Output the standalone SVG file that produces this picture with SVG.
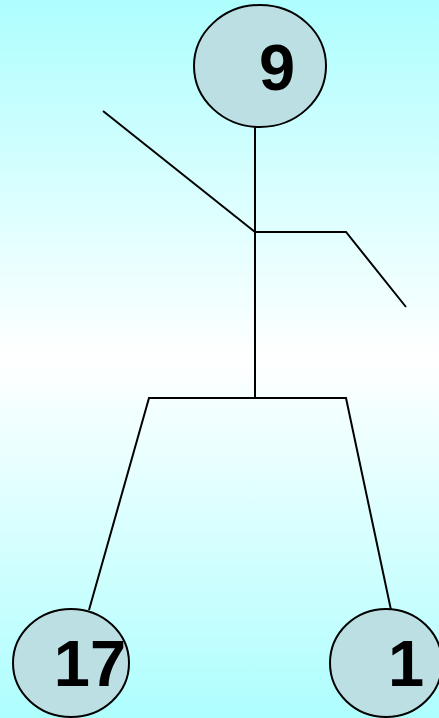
<svg xmlns="http://www.w3.org/2000/svg" width="439" height="718" viewBox="0 0 439 718">
<defs>
<linearGradient id="bg" x1="0" y1="0" x2="0" y2="1">
<stop offset="0" stop-color="#aefefe"/>
<stop offset="0.5" stop-color="#ffffff"/>
<stop offset="1" stop-color="#aefefe"/>
</linearGradient>
<style>
.node ellipse{fill:#bcdfe3;stroke:#000;stroke-width:2}
.node text{font-family:"Liberation Sans",Arial,sans-serif;font-weight:bold;font-size:65px;fill:#000}
.edges line,.edges polyline{stroke:#000;stroke-width:2;fill:none}
</style>
</defs>
<rect width="439" height="718" fill="url(#bg)"/>
<g class="edges">
<line x1="255" y1="127" x2="255" y2="398"/>
<line x1="103" y1="111" x2="255" y2="232"/>
<polyline points="255,232 346,232 406,307"/>
<polyline points="89,610 149,398 346,398 391,610"/>
</g>
<g id="n9" class="node">
<ellipse cx="260" cy="66" rx="66" ry="61"/>
<text x="259" y="90">9</text>
</g>
<g id="n17" class="node">
<ellipse cx="71" cy="663" rx="58" ry="54"/>
<text x="90" y="686" text-anchor="middle">17</text>
</g>
<g id="n1" class="node">
<ellipse cx="386" cy="663" rx="56" ry="54"/>
<text x="388" y="686">1</text>
</g>
</svg>
